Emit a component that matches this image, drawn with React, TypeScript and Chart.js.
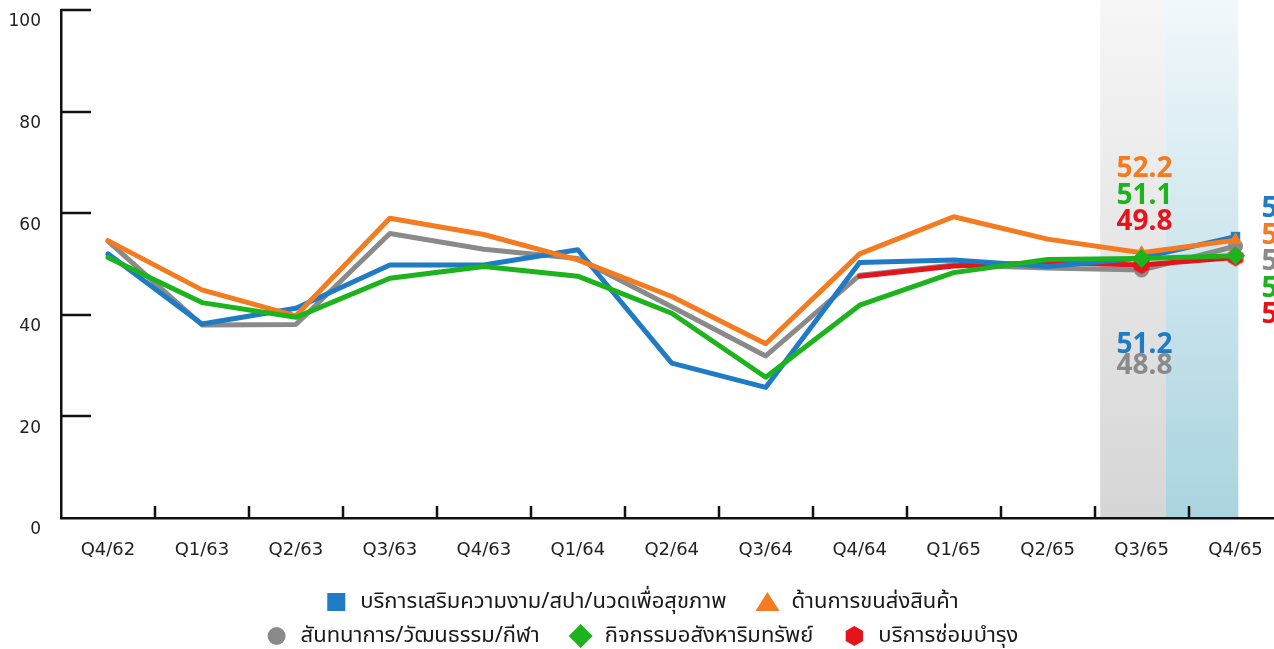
import React, { useEffect, useRef } from "react";
import { Chart, registerables } from "chart.js";

Chart.register(...registerables);

// ---------- data ----------
const categories = ["Q4/62", "Q1/63", "Q2/63", "Q3/63", "Q4/63", "Q1/64", "Q2/64", "Q3/64", "Q4/64", "Q1/65", "Q2/65", "Q3/65", "Q4/65"];
const beautySpa = [52.0, 38.2, 41.3, 49.8, 49.8, 52.8, 30.5, 25.7, 50.3, 50.8, 49.5, 51.2, 55.4];
const transport = [54.6, 44.9, 39.8, 59.0, 55.8, 50.8, 43.6, 34.3, 52.0, 59.3, 54.9, 52.2, 54.7];
const recreation = [54.5, 38.0, 38.1, 56.0, 52.9, 51.1, 41.6, 31.9, 47.8, 49.8, 49.2, 48.8, 53.5];
const realEstate = [51.3, 42.4, 39.5, 47.2, 49.5, 47.6, 40.3, 27.7, 41.9, 48.3, 50.9, 51.1, 51.6];
const repair = [null, null, null, null, null, null, null, null, 47.6, 49.6, 50.3, 49.8, 51.3];

const seriesNames = [
  "บริการเสริมความงาม/สปา/นวดเพื่อสุขภาพ",
  "ด้านการขนส่งสินค้า",
  "สันทนาการ/วัฒนธรรม/กีฬา",
  "กิจกรรมอสังหาริมทรัพย์",
  "บริการซ่อมบำรุง",
];
const seriesColors = ["#1f7bc4", "#f47b20", "#8a8a8a", "#1db31d", "#e5141b"];
const seriesStyles = ["rect", "triangle", "circle", "rectRot", "hex"];
const seriesOrder = [2, 1, 4, 0, 3];
const yTicks = [0, 20, 40, 60, 80, 100];
const highlightIndexes = [11, 12];
const labelTopGroup = [1, 3, 4]; // labels above, at Q3/65
const labelBottomGroup = [0, 2]; // labels below, at Q3/65
const labelRightGroup = [0, 1, 2, 3, 4]; // labels right of Q4/65
const legendRows = [[0, 1], [2, 3, 4]];

const allSeries = [beautySpa, transport, recreation, realEstate, repair];

const FONT = '"Noto Sans", "Noto Sans Thai", "Open Sans", sans-serif';
const AXIS_FONT = '"DejaVu Sans", "Noto Sans", sans-serif';
const W = 1330;
const H = 649;

function makeHexagon(color: string, r: number) {
  const c = document.createElement("canvas");
  const size = Math.ceil(r * 2) + 2;
  c.width = size;
  c.height = size;
  const ctx = c.getContext("2d")!;
  ctx.fillStyle = color;
  ctx.beginPath();
  for (let k = 0; k < 6; k++) {
    const a = -Math.PI / 2 + (k * Math.PI) / 3;
    const x = size / 2 + r * Math.cos(a);
    const y = size / 2 + r * Math.sin(a);
    if (k === 0) ctx.moveTo(x, y);
    else ctx.lineTo(x, y);
  }
  ctx.closePath();
  ctx.fill();
  return c;
}

function drawMarker(ctx: CanvasRenderingContext2D, style: string, x: number, y: number, color: string) {
  ctx.save();
  ctx.fillStyle = color;
  ctx.beginPath();
  if (style === "rect") {
    ctx.rect(x - 9, y - 9, 18, 18);
  } else if (style === "triangle") {
    ctx.moveTo(x, y - 10);
    ctx.lineTo(x + 12, y + 9);
    ctx.lineTo(x - 12, y + 9);
    ctx.closePath();
  } else if (style === "circle") {
    ctx.arc(x, y, 9, 0, Math.PI * 2);
  } else if (style === "rectRot") {
    ctx.moveTo(x, y - 12);
    ctx.lineTo(x + 12, y);
    ctx.lineTo(x, y + 12);
    ctx.lineTo(x - 12, y);
    ctx.closePath();
  } else {
    for (let k = 0; k < 6; k++) {
      const a = -Math.PI / 2 + (k * Math.PI) / 3;
      const px = x + 10 * Math.cos(a);
      const py = y + 10 * Math.sin(a);
      if (k === 0) ctx.moveTo(px, py);
      else ctx.lineTo(px, py);
    }
    ctx.closePath();
  }
  ctx.fill();
  ctx.restore();
}

const bandsPlugin = {
  id: "bands",
  beforeDraw(chart: any) {
    const { ctx, chartArea, scales } = chart;
    const xs = scales.x;
    const bottom = chartArea.bottom - 1;
    const g1 = xs.getPixelForValue(10.56);
    const g2 = xs.getPixelForValue(11.26);
    const g3 = xs.getPixelForValue(12.03);
    ctx.save();
    const gg = ctx.createLinearGradient(0, 0, 0, bottom);
    gg.addColorStop(0, "#f6f6f6");
    gg.addColorStop(1, "#d6d6d7");
    ctx.fillStyle = gg;
    ctx.fillRect(g1, 0, g2 - g1, bottom);
    const gb = ctx.createLinearGradient(0, 0, 0, bottom);
    gb.addColorStop(0, "#f1f8fb");
    gb.addColorStop(1, "#aad4e0");
    ctx.fillStyle = gb;
    ctx.fillRect(g2, 0, g3 - g2, bottom);
    ctx.restore();
  },
};

const ticksPlugin = {
  id: "innerTicks",
  afterDatasetsDraw(chart: any) {
    const { ctx, chartArea, scales } = chart;
    ctx.save();
    ctx.strokeStyle = "#111";
    ctx.lineWidth = 2.5;
    ctx.beginPath();
    yTicks.forEach((v) => {
      if (v === 0) return;
      const y = Math.round(scales.y.getPixelForValue(v));
      ctx.moveTo(chartArea.left, y);
      ctx.lineTo(chartArea.left + 30, y);
    });
    for (let i = 0; i < categories.length - 1; i++) {
      const x = Math.round(scales.x.getPixelForValue(i + 0.5));
      ctx.moveTo(x, chartArea.bottom);
      ctx.lineTo(x, chartArea.bottom - 12);
    }
    ctx.stroke();
    ctx.restore();
  },
};

const valueLabelsPlugin = {
  id: "valueLabels",
  afterDatasetsDraw(chart: any) {
    const { ctx, scales } = chart;
    const xs = scales.x;
    ctx.save();
    ctx.font = `bold 28px ${FONT}`;
    ctx.textAlign = "left";
    ctx.textBaseline = "alphabetic";
    const i3 = highlightIndexes[0];
    const i4 = highlightIndexes[1];
    const xL = xs.getPixelForValue(i3) - 25;
    let base = 177;
    labelTopGroup.forEach((s) => {
      ctx.fillStyle = seriesColors[s];
      ctx.fillText((allSeries[s][i3] as number).toFixed(1), xL, base);
      base += 26.5;
    });
    base = 353;
    labelBottomGroup.forEach((s) => {
      ctx.fillStyle = seriesColors[s];
      ctx.fillText((allSeries[s][i3] as number).toFixed(1), xL, base);
      base += 21;
    });
    const xR = xs.getPixelForValue(i4) + 26;
    base = 217;
    labelRightGroup.forEach((s) => {
      ctx.fillStyle = seriesColors[s];
      ctx.fillText((allSeries[s][i4] as number).toFixed(1), xR, base);
      base += 26.5;
    });
    ctx.restore();
  },
};

const legendPlugin = {
  id: "customLegend",
  afterDraw(chart: any) {
    const { ctx, chartArea } = chart;
    ctx.save();
    ctx.font = `22px ${FONT}`;
    ctx.textBaseline = "middle";
    ctx.textAlign = "left";
    const centerX = 642;
    const rowY = [chartArea.bottom + 84, chartArea.bottom + 118];
    const markerW = 22;
    const gapMT = 13;
    const gapItems = 30;
    legendRows.forEach((row, r) => {
      const widths = row.map((s) => markerW + gapMT + ctx.measureText(seriesNames[s]).width);
      const total = widths.reduce((a, b) => a + b, 0) + gapItems * (row.length - 1);
      let x = centerX - total / 2;
      const y = rowY[r];
      row.forEach((s, k) => {
        drawMarker(ctx, seriesStyles[s], x + markerW / 2, y, seriesColors[s]);
        ctx.fillStyle = "#1a1a1a";
        ctx.fillText(seriesNames[s], x + markerW + gapMT, y);
        x += widths[k] + gapItems;
      });
    });
    ctx.restore();
  },
};

export default function App() {
  const ref = useRef<HTMLCanvasElement | null>(null);

  useEffect(() => {
    const canvas = ref.current;
    if (!canvas) return;
    const datasets = allSeries.map((data, s) => {
      const style = seriesStyles[s];
      const radius = style === "rectRot" ? 9 : style === "rect" ? 6 : 7;
      return {
        label: seriesNames[s],
        data,
        borderColor: seriesColors[s],
        backgroundColor: seriesColors[s],
        borderWidth: 5,
        borderJoinStyle: "round" as const,
        borderCapStyle: "round" as const,
        tension: 0,
        spanGaps: false,
        order: seriesOrder[s],
        pointStyle:
          style === "hex"
            ? categories.map((_, i) => (highlightIndexes.includes(i) ? makeHexagon(seriesColors[s], 9) : "circle"))
            : style,
        pointRadius: categories.map((_, i) => (highlightIndexes.includes(i) ? radius : 0)),
        pointHoverRadius: 0,
        pointBackgroundColor: seriesColors[s],
        pointBorderColor: seriesColors[s],
        pointBorderWidth: 1,
        clip: false,
      };
    });

    const chart = new Chart(canvas, {
      type: "line",
      data: { labels: categories, datasets: datasets as any },
      options: {
        responsive: false,
        animation: false,
        devicePixelRatio: 1,
        layout: { padding: { left: 0, top: 10, right: W - 1282.5, bottom: 0 } },
        plugins: {
          legend: { display: false },
          tooltip: { enabled: false },
        },
        scales: {
          x: {
            type: "category",
            offset: true,
            grid: { display: false, drawTicks: false },
            border: { display: true, color: "#111", width: 2.5 },
            ticks: {
              color: "#222",
              font: { family: AXIS_FONT, size: 18 },
              padding: 22,
              autoSkip: false,
              maxRotation: 0,
            },
            afterFit: (scale: any) => {
              scale.height = H - 518;
              scale.paddingLeft = 0;
              scale.paddingRight = 0;
            },
          },
          y: {
            min: 0,
            max: 100,
            grid: { display: false, drawTicks: false },
            border: { display: true, color: "#111", width: 2.5 },
            ticks: {
              stepSize: 20,
              color: "#222",
              font: { family: AXIS_FONT, size: 17 },
              padding: 20,
              labelOffset: 12,
            },
            afterFit: (scale: any) => {
              scale.width = 61;
              scale.paddingTop = 0;
              scale.paddingBottom = 0;
            },
          },
        },
      },
      plugins: [bandsPlugin, ticksPlugin, valueLabelsPlugin, legendPlugin],
    });
    return () => chart.destroy();
  }, []);

  return (
    <div
      style={{
        position: "fixed",
        left: 0,
        top: 0,
        width: 1274,
        height: 649,
        overflow: "hidden",
        background: "#ffffff",
      }}
    >
      <canvas ref={ref} width={W} height={H} style={{ display: "block", width: W, height: H }} />
    </div>
  );
}
